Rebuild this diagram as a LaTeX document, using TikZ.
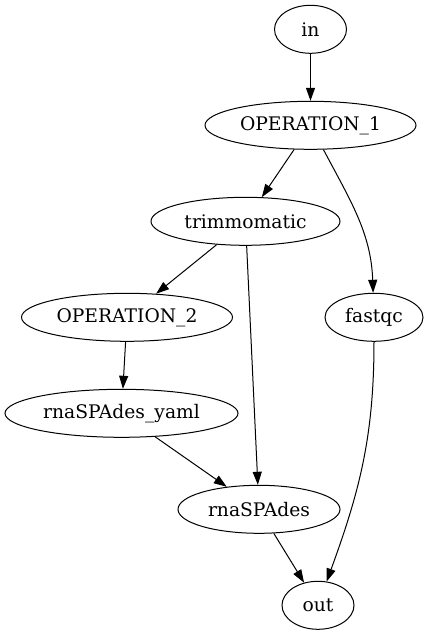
\documentclass[tikz,border=0pt]{standalone}
\usepackage{fontspec}
\setmainfont{DejaVu Serif}
\usetikzlibrary{arrows.meta}
\usetikzlibrary{shapes.geometric}

\begin{document}
\begin{tikzpicture}[x=1pt,y=-1pt,
  task/.style={ellipse,draw,line width=1pt,inner sep=0pt,minimum height=48pt,font=\fontsize{18.7}{22}\selectfont},
  flow/.style={-{Triangle[length=13pt,width=9pt]},line width=1pt}]
\def\r{96}
\def\top{29.3}
\useasboundingbox (0,0) rectangle (435,635);

%nodes, one rank per row
\node[task,minimum width=72pt]  (inp)    at (310.5,\top)        {in};
\node[task,minimum width=211pt] (op1)    at (310.5,\top+\r)     {OPERATION\_1};
\node[task,minimum width=189pt] (trim)   at (245.5,\top+2*\r)   {trimmomatic};
\node[task,minimum width=211pt] (op2)    at (127,\top+3*\r)     {OPERATION\_2};
\node[task,minimum width=98pt]  (fastqc) at (374,\top+3*\r)     {fastqc};
\node[task,minimum width=233pt] (yaml)   at (121.5,\top+4*\r)   {rnaSPAdes\_yaml};
\node[task,minimum width=162pt] (spades) at (259,\top+5*\r)     {rnaSPAdes};
\node[task,minimum width=72pt]  (outp)   at (318,\top+6*\r)     {out};

%edges
\draw[flow] (inp) -- (op1);
\draw[flow] (op1) -- (trim);
\draw[flow] (op1) to[out=-62,in=92] (fastqc);
\draw[flow] (trim) -- (op2);
\draw[flow] (trim) -- (spades);
\draw[flow] (op2) -- (yaml);
\draw[flow] (yaml) -- (spades);
\draw[flow] (spades) -- (outp);
\draw[flow] (fastqc) to[out=-90,in=70] (outp);

\end{tikzpicture}
\end{document}
